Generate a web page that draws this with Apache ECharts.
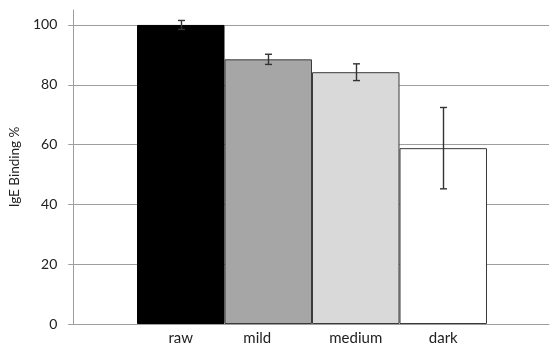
<!DOCTYPE html>
<html><head><meta charset="utf-8">
<script src="https://cdn.jsdelivr.net/npm/echarts@6/dist/echarts.min.js"></script>
<style>html,body{margin:0;padding:0;background:#fff}#c{width:553px;height:346px}</style>
</head><body><div id="c"></div>
<script>
var categories = ['raw', 'mild', 'medium', 'dark'];
var values = [100, 88.5, 84.2, 58.8];
var errors = [1.5, 1.7, 2.8, 13.6];
var barColors = ['#000000', '#a6a6a6', '#d9d9d9', '#ffffff'];
var yTicks = [0, 20, 40, 60, 80, 100];

var chart = echarts.init(document.getElementById('c'));
var font = 'Lato, "Liberation Sans", sans-serif';
var gridColor = '#9e9e9e';
chart.setOption({
  animation: false,
  grid: [
    {left: 71, right: 4, top: 10, bottom: 22},
    {left: 137, right: 66, top: 10, bottom: 22}
  ],
  xAxis: [
    {gridIndex: 0, type: 'value', min: 0, max: 1, axisLine: {show: true, lineStyle: {color: gridColor, width: 1}},
     axisTick: {show: false}, axisLabel: {show: false}, splitLine: {show: false}},
    {gridIndex: 1, type: 'category', data: categories, axisLine: {show: false}, axisTick: {show: false},
     axisLabel: {margin: 7, fontSize: 15, color: '#222', fontFamily: font,
       formatter: function (v, i) { return i === 1 ? '{s|' + v + '}' : v; },
       rich: {s: {fontSize: 15, color: '#222', fontFamily: font, padding: [0, 22, 0, 0]}}}}
  ],
  yAxis: [
    {gridIndex: 0, type: 'value', min: 0, max: 105, interval: 20,
     name: 'IgE Binding %', nameLocation: 'middle', nameGap: 48, nameRotate: 90,
     nameTextStyle: {fontSize: 13.5, color: '#222', fontFamily: font},
     axisLine: {show: true, lineStyle: {color: gridColor, width: 1}},
     axisTick: {show: true, length: 5, lineStyle: {color: gridColor}, customValues: yTicks},
     axisLabel: {fontSize: 14, color: '#222', fontFamily: font, margin: 16, customValues: yTicks},
     splitLine: {show: true, lineStyle: {color: gridColor, width: 1}}},
    {gridIndex: 1, type: 'value', min: 0, max: 105, show: false}
  ],
  series: [
    {type: 'bar', xAxisIndex: 1, yAxisIndex: 1, barCategoryGap: '0%',
     data: values.map(function (v, i) {
       return {value: v, itemStyle: {color: barColors[i], borderColor: i === 0 ? '#000' : '#3a3a3a', borderWidth: 1}};
     })},
    {type: 'custom', xAxisIndex: 1, yAxisIndex: 1, z: 5,
     data: values.map(function (v, i) { return [i, v - errors[i], v + errors[i]]; }),
     renderItem: function (params, api) {
       var lo = api.coord([api.value(0), api.value(1)]);
       var hi = api.coord([api.value(0), api.value(2)]);
       var x = Math.round(lo[0]) + 0.5, w = 3.5;
       var st = {stroke: '#333', lineWidth: 1.4};
       return {type: 'group', children: [
         {type: 'line', shape: {x1: x, y1: hi[1], x2: x, y2: lo[1]}, style: st},
         {type: 'line', shape: {x1: x - w, y1: hi[1], x2: x + w, y2: hi[1]}, style: st},
         {type: 'line', shape: {x1: x - w, y1: lo[1], x2: x + w, y2: lo[1]}, style: st}
       ]};
     }}
  ]
});
</script></body></html>
